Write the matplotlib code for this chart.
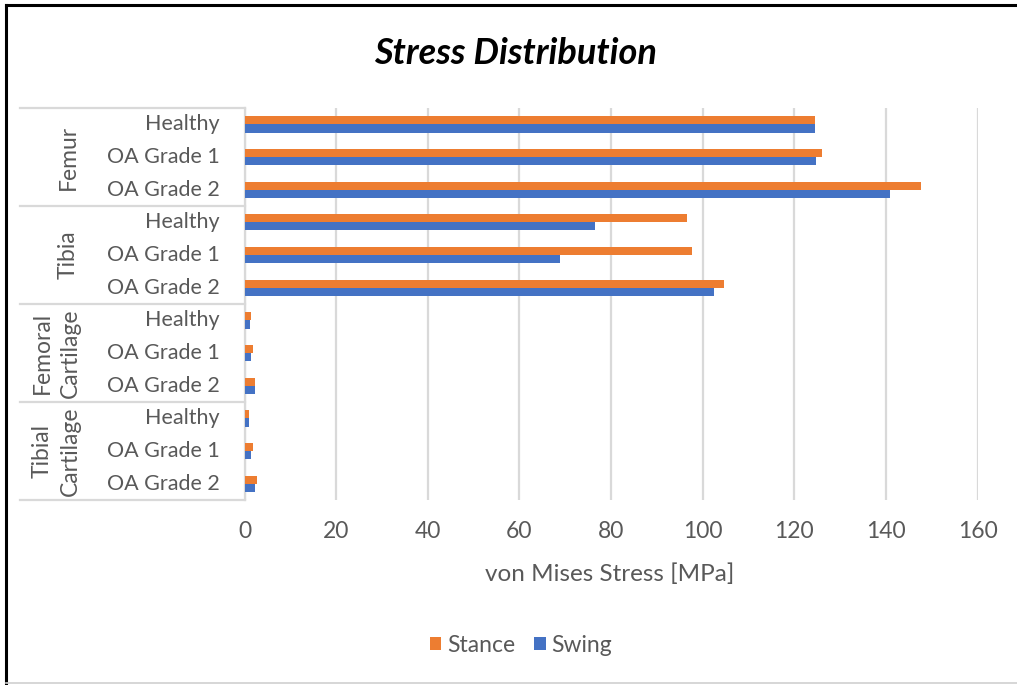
import matplotlib
matplotlib.use("Agg")
import matplotlib.pyplot as plt
import matplotlib.transforms as mtransforms
from matplotlib.lines import Line2D
import numpy as np

# ---- data ----
groups = ["Femur", "Tibia", "Femoral\nCartilage", "Tibial\nCartilage"]
conditions = ["Healthy", "OA Grade 1", "OA Grade 2"]
stance = [124.5, 126.0, 147.7,
          96.5, 97.6, 104.7,
          1.5, 1.8, 2.4,
          1.0, 1.8, 2.7]
swing = [124.5, 124.8, 141.0,
         76.5, 68.9, 102.4,
         1.2, 1.5, 2.4,
         1.0, 1.5, 2.4]
x_ticks = [0, 20, 40, 60, 80, 100, 120, 140, 160]

ORANGE = "#ED7D31"
BLUE = "#4472C4"
GREY_TXT = "#595959"
GRID = "#D9D9D9"
FONT = "Lato"

W, H = 1017, 685
fig = plt.figure(figsize=(W / 100, H / 100), dpi=100)
fig.patch.set_facecolor("white")

# plot area in pixel coordinates
px_left, px_right, px_top, px_bottom = 244.5, 977.5, 108, 500
ax = fig.add_axes([px_left / W, 1 - px_bottom / H,
                   (px_right - px_left) / W, (px_bottom - px_top) / H])

n = len(stance)
centers = np.arange(n) + 0.5
bh = 0.25
ax.barh(centers - bh / 2, stance, height=bh, color=ORANGE, label="Stance", zorder=3)
ax.barh(centers + bh / 2, swing, height=bh, color=BLUE, label="Swing", zorder=3)

ax.set_xlim(0, 160)
ax.set_ylim(n, 0)
ax.set_xticks(x_ticks)
ax.set_xticklabels([str(v) for v in x_ticks], fontsize=16.5, color=GREY_TXT, family=FONT)
ax.tick_params(axis="x", length=0, pad=15)
ax.set_yticks([])
ax.grid(axis="x", color=GRID, linewidth=1.6, zorder=0)
for s in ["top", "right", "bottom"]:
    ax.spines[s].set_visible(False)
ax.spines["left"].set_color(GRID)
ax.spines["left"].set_linewidth(1.6)

fig.text(610 / W, 1 - 574 / H, "von Mises Stress [MPa]", fontsize=17.5, color=GREY_TXT,
         family=FONT, ha="center", va="center")

# multi-level category axis
trans = mtransforms.blended_transform_factory(fig.transFigure, ax.transData)
for i, lab in enumerate(conditions * len(groups)):
    ax.text(220 / W, centers[i], lab, transform=trans, ha="right", va="center",
            fontsize=15.5, color=GREY_TXT, family=FONT)

for g, name in enumerate(groups):
    yc = g * 3 + 1.5
    xc = 68 if "\n" not in name else 56.5
    ax.text(xc / W, yc, name, transform=trans, ha="center", va="center",
            rotation=90, fontsize=16.5, color=GREY_TXT, family=FONT,
            multialignment="center", linespacing=1.4)

for yb in range(0, n + 1, 3):
    ax.add_line(Line2D([20 / W, px_left / W], [yb, yb], transform=trans,
                       color=GRID, linewidth=1.6, clip_on=False))

fig.text(516 / W, 1 - 53 / H, "Stress Distribution", fontsize=26, fontweight="bold",
         style="italic", family=FONT, color="black", ha="center", va="center")

fig.legend(loc="center", bbox_to_anchor=(521 / W, 1 - 645 / H), ncol=2, frameon=False,
           prop={"family": FONT, "size": 16.5}, labelcolor=GREY_TXT,
           handlelength=0.5, handleheight=0.5, handletextpad=0.25, columnspacing=0.85)

# outer chart frame
fig.add_artist(Line2D([6 / W, 1], [1 - 5 / H, 1 - 5 / H], transform=fig.transFigure,
                      color="black", linewidth=2.2))
fig.add_artist(Line2D([6 / W, 6 / W], [0, 1 - 5 / H], transform=fig.transFigure,
                      color="black", linewidth=2.2))
fig.add_artist(Line2D([6 / W, 1], [1 - 683 / H, 1 - 683 / H], transform=fig.transFigure,
                      color="#D0D0D0", linewidth=1.2))

fig.savefig("out.png", dpi=100)
